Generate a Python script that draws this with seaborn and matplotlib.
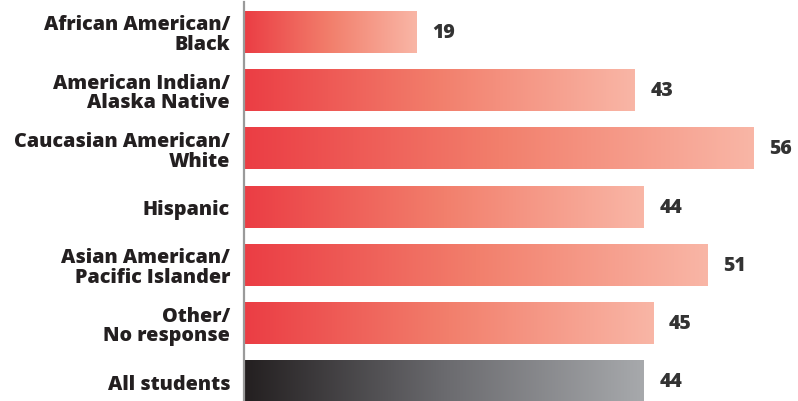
import numpy as np
import pandas as pd
import matplotlib
matplotlib.use("Agg")
import matplotlib.pyplot as plt
from matplotlib.colors import LinearSegmentedColormap
import seaborn as sns

categories = ["African American/\nBlack", "American Indian/\nAlaska Native",
              "Caucasian American/\nWhite", "Hispanic",
              "Asian American/\nPacific Islander", "Other/\nNo response",
              "All students"]
values = [19, 43, 56, 44, 51, 45, 44]

sns.set_theme(style="white")
plt.rcParams['font.family'] = ['Open Sans', 'DejaVu Sans']

df = pd.DataFrame({"group": categories, "value": values})

fig = plt.figure(figsize=(7.98, 4.02), dpi=100)
ax = fig.add_axes([244/798, 0, 1 - 244/798, 399/402])

sns.barplot(data=df, x="value", y="group", orient="h", width=0.72,
            color="#eb3d44", ax=ax, zorder=2)

red_cmap = LinearSegmentedColormap.from_list("red", ["#eb3d44", "#f27f6c", "#f9b6a6"])
gray_cmap = LinearSegmentedColormap.from_list("gray", ["#231f20", "#6a6a6e", "#a7a9ac"])
grad = np.linspace(0, 1, 256).reshape(1, -1)

ax.set_xlim(0, 60.95)
ax.set_ylim(6.34, -0.515)

for i, p in enumerate(ax.patches):
    x0, y0 = p.get_x(), p.get_y()
    w, h = p.get_width(), p.get_height()
    cmap = gray_cmap if i == len(values) - 1 else red_cmap
    im = ax.imshow(grad, cmap=cmap, aspect="auto",
                   extent=(x0, x0 + w, y0 + h, y0), zorder=3)
    im.set_clip_path(p)
    p.set_edgecolor("none")
    ax.text(x0 + w + 1.75, y0 + h / 2, f"{values[i]}", va="center", ha="left",
            fontsize=14, fontweight="heavy", color="#333333")

ax.set_xlim(0, 60.95)
ax.set_ylim(6.34, -0.515)

ax.set_xlabel("")
ax.set_ylabel("")
ax.set_xticks([])
ax.tick_params(axis="y", length=0, pad=10)
for lbl in ax.get_yticklabels():
    lbl.set_fontsize(14.2)
    lbl.set_fontweight("heavy")
    lbl.set_color("#231f20")
    lbl.set_linespacing(0.98)
    lbl.set_horizontalalignment("right")
for s in ["top", "right", "bottom"]:
    ax.spines[s].set_visible(False)
ax.spines["left"].set_color("#9a9a9a")
ax.spines["left"].set_linewidth(1.6)
ax.spines["left"].set_zorder(5)

fig.savefig("out.png", dpi=100)
